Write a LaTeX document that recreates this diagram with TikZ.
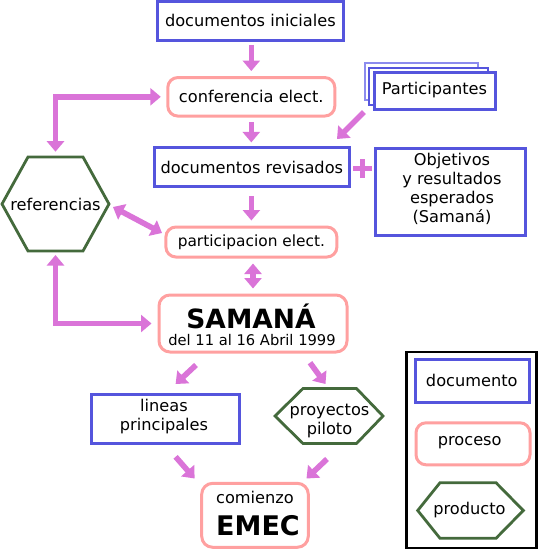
\documentclass[tikz,border=0pt]{standalone}
\usepackage{fontspec}
\setmainfont{DejaVu Sans}
\usetikzlibrary{arrows.meta}
\definecolor{docblue}{HTML}{5555DD}
\definecolor{docblue2}{HTML}{8C8CEE}
\definecolor{procpink}{HTML}{FFA0A0}
\definecolor{prodgreen}{HTML}{446A3C}
\definecolor{arrcol}{HTML}{DA74D8}
\begin{document}
\begin{tikzpicture}[x=1pt,y=-1pt,
  every node/.style={font=\fontsize{16.2}{19}\selectfont, inner sep=0pt, align=center, text=black},
  docbox/.style={draw=docblue, line width=3pt, fill=white},
  procbox/.style={draw=procpink, line width=3pt, rounded corners=10pt, fill=white},
  hexline/.style={draw=prodgreen, line width=2.8pt, line join=miter},
  tipA/.tip={Triangle[width=17pt,length=10.5pt]},
  arr/.style={draw=arrcol, line width=5.6pt, -tipA},
  darr/.style={draw=arrcol, line width=5.6pt, tipA-tipA},
]
\useasboundingbox (0,0) rectangle (538,550);

% document boxes
\node[docbox, minimum width=186pt, minimum height=39pt] (docini) at (250.4,20.7) {documentos iniciales};
\node[docbox, minimum width=195pt, minimum height=39pt] (docrev) at (251.8,167.4) {documentos revisados};
\node[docbox, minimum width=150pt, minimum height=87pt] (obj) at (450.3,192.2) {};
\node (objtxt) at (452,189) {Objetivos\\y resultados\\esperados\\(Samaná)};
\node[docbox, minimum width=148pt, minimum height=49pt] (lineas) at (165.3,419.3) {};
\node (lintxt) at (164,417) {lineas\\principales};

% participantes stack
\node[draw=docblue2, line width=1.8pt, fill=white, minimum width=113pt, minimum height=37pt] (partb) at (421.5,81.5) {};
\node[draw=docblue, line width=2.4pt, fill=white, minimum width=119pt, minimum height=37pt] (partm) at (428.5,86.5) {};
\node[docbox, minimum width=121pt, minimum height=37pt] (part) at (434.5,90.5) {Participantes};

% process boxes
\node[procbox, minimum width=167pt, minimum height=38.5pt] (conf) at (251.3,96.8) {conferencia elect.};
\node[procbox, minimum width=171pt, minimum height=30pt, font=\fontsize{15.4}{18}\selectfont] (partic) at (251.4,242) {participacion elect.};
\node[procbox, rounded corners=11pt, minimum width=188pt, minimum height=57pt] (samana) at (253,323.5) {};
\node[font=\fontsize{26.5}{28}\selectfont\bfseries, anchor=base] (samt) at (251,328.3) {SAMANÁ};
\node[font=\fontsize{14.7}{16}\selectfont, anchor=base] (samd) at (252,345) {del 11 al 16 Abril 1999};
\node[procbox, rounded corners=11pt, minimum width=106.6pt, minimum height=64pt] (com) at (255,515.3) {};
\node[anchor=base] (comt) at (255,503) {comienzo};
\node[font=\fontsize{27}{30}\selectfont\bfseries, anchor=base] (emec) at (258,535) {EMEC};

% hexagons (drawn around their centres)
\node (ref) at (55.5,204) {referencias};
\draw[hexline] ([shift={(-27.5,-47)}]ref.center) -- ([shift={(27.5,-47)}]ref.center) -- ([shift={(53.5,0)}]ref.center) -- ([shift={(27.5,47)}]ref.center) -- ([shift={(-27.5,47)}]ref.center) -- ([shift={(-53.5,0)}]ref.center) -- cycle;
\node (proy) at (329.5,421) {proyectos\\piloto};
\coordinate (proyc) at (329,416);
\draw[hexline] ([shift={(-26,-27.5)}]proyc) -- ([shift={(27.5,-27.5)}]proyc) -- ([shift={(54,0)}]proyc) -- ([shift={(27.5,27.5)}]proyc) -- ([shift={(-26,27.5)}]proyc) -- ([shift={(-54,0)}]proyc) -- cycle;

% plus sign
\coordinate (plus) at (362.5,168.5);
\draw[arrcol, line width=5.6pt] ([xshift=-9.5pt]plus) -- ([xshift=9.5pt]plus);
\draw[arrcol, line width=5.6pt] ([yshift=-9.5pt]plus) -- ([yshift=9.5pt]plus);

% legend
\node[draw=black, line width=2.8pt, minimum width=130pt, minimum height=196pt] (legend) at (471.7,450) {};
\node[docbox, minimum width=114pt, minimum height=42.7pt] (ldoc) at (472,381.3) {};
\node (ldoct) at (471.8,380) {documento};
\node[procbox, minimum width=114pt, minimum height=42pt] (lproc) at (473,443.8) {};
\node (lproct) at (469.7,443) {proceso};
\coordinate (lprodc) at (470.5,510.5);
\draw[hexline] ([shift={(-30.5,-27.8)}]lprodc) -- ([shift={(25.5,-27.8)}]lprodc) -- ([shift={(52.8,0)}]lprodc) -- ([shift={(25.5,27.8)}]lprodc) -- ([shift={(-30.5,27.8)}]lprodc) -- ([shift={(-52.8,0)}]lprodc) -- cycle;
\node (lprod) at (469.5,510) {producto};

% connector coordinates
\coordinate (pa1) at (364,112);
\coordinate (pa2) at (337,139);
\coordinate (rp1) at (113,207);
\coordinate (rp2) at (162,233);
\coordinate (sl1) at (196,365);
\coordinate (sl2) at (175.6,384);
\coordinate (sp1) at (310,362.7);
\coordinate (sp2) at (325.5,384);
\coordinate (lc1) at (175.6,456.8);
\coordinate (lc2) at (194.6,478.5);
\coordinate (pc1) at (327,459);
\coordinate (pc2) at (306.5,478.5);

% connectors
\draw[arr, shorten <=3.5pt, shorten >=5pt] (conf.north |- docini.south) -- (conf.north);
\draw[arr, shorten <=4.5pt, shorten >=4pt] (conf.south) -- (conf.south |- docrev.north);
\draw[arr] (pa1) -- (pa2);
\draw[arr, shorten <=8pt, shorten >=5pt] (partic.north |- docrev.south) -- (partic.north);
\draw[darr] (rp1) -- (rp2);
\draw[darr, shorten <=52.3pt, shorten >=5.5pt] (ref.center) |- (conf.west);
\draw[darr, shorten <=51pt, shorten >=6pt] (ref.center) |- (samana.west);
\draw[darr, shorten <=5pt, shorten >=5pt] (samana.north |- partic.south) -- (samana.north);
\draw[arr] (sl1) -- (sl2);
\draw[arr] (sp1) -- (sp2);
\draw[arr] (lc1) -- (lc2);
\draw[arr] (pc1) -- (pc2);
\end{tikzpicture}
\end{document}
